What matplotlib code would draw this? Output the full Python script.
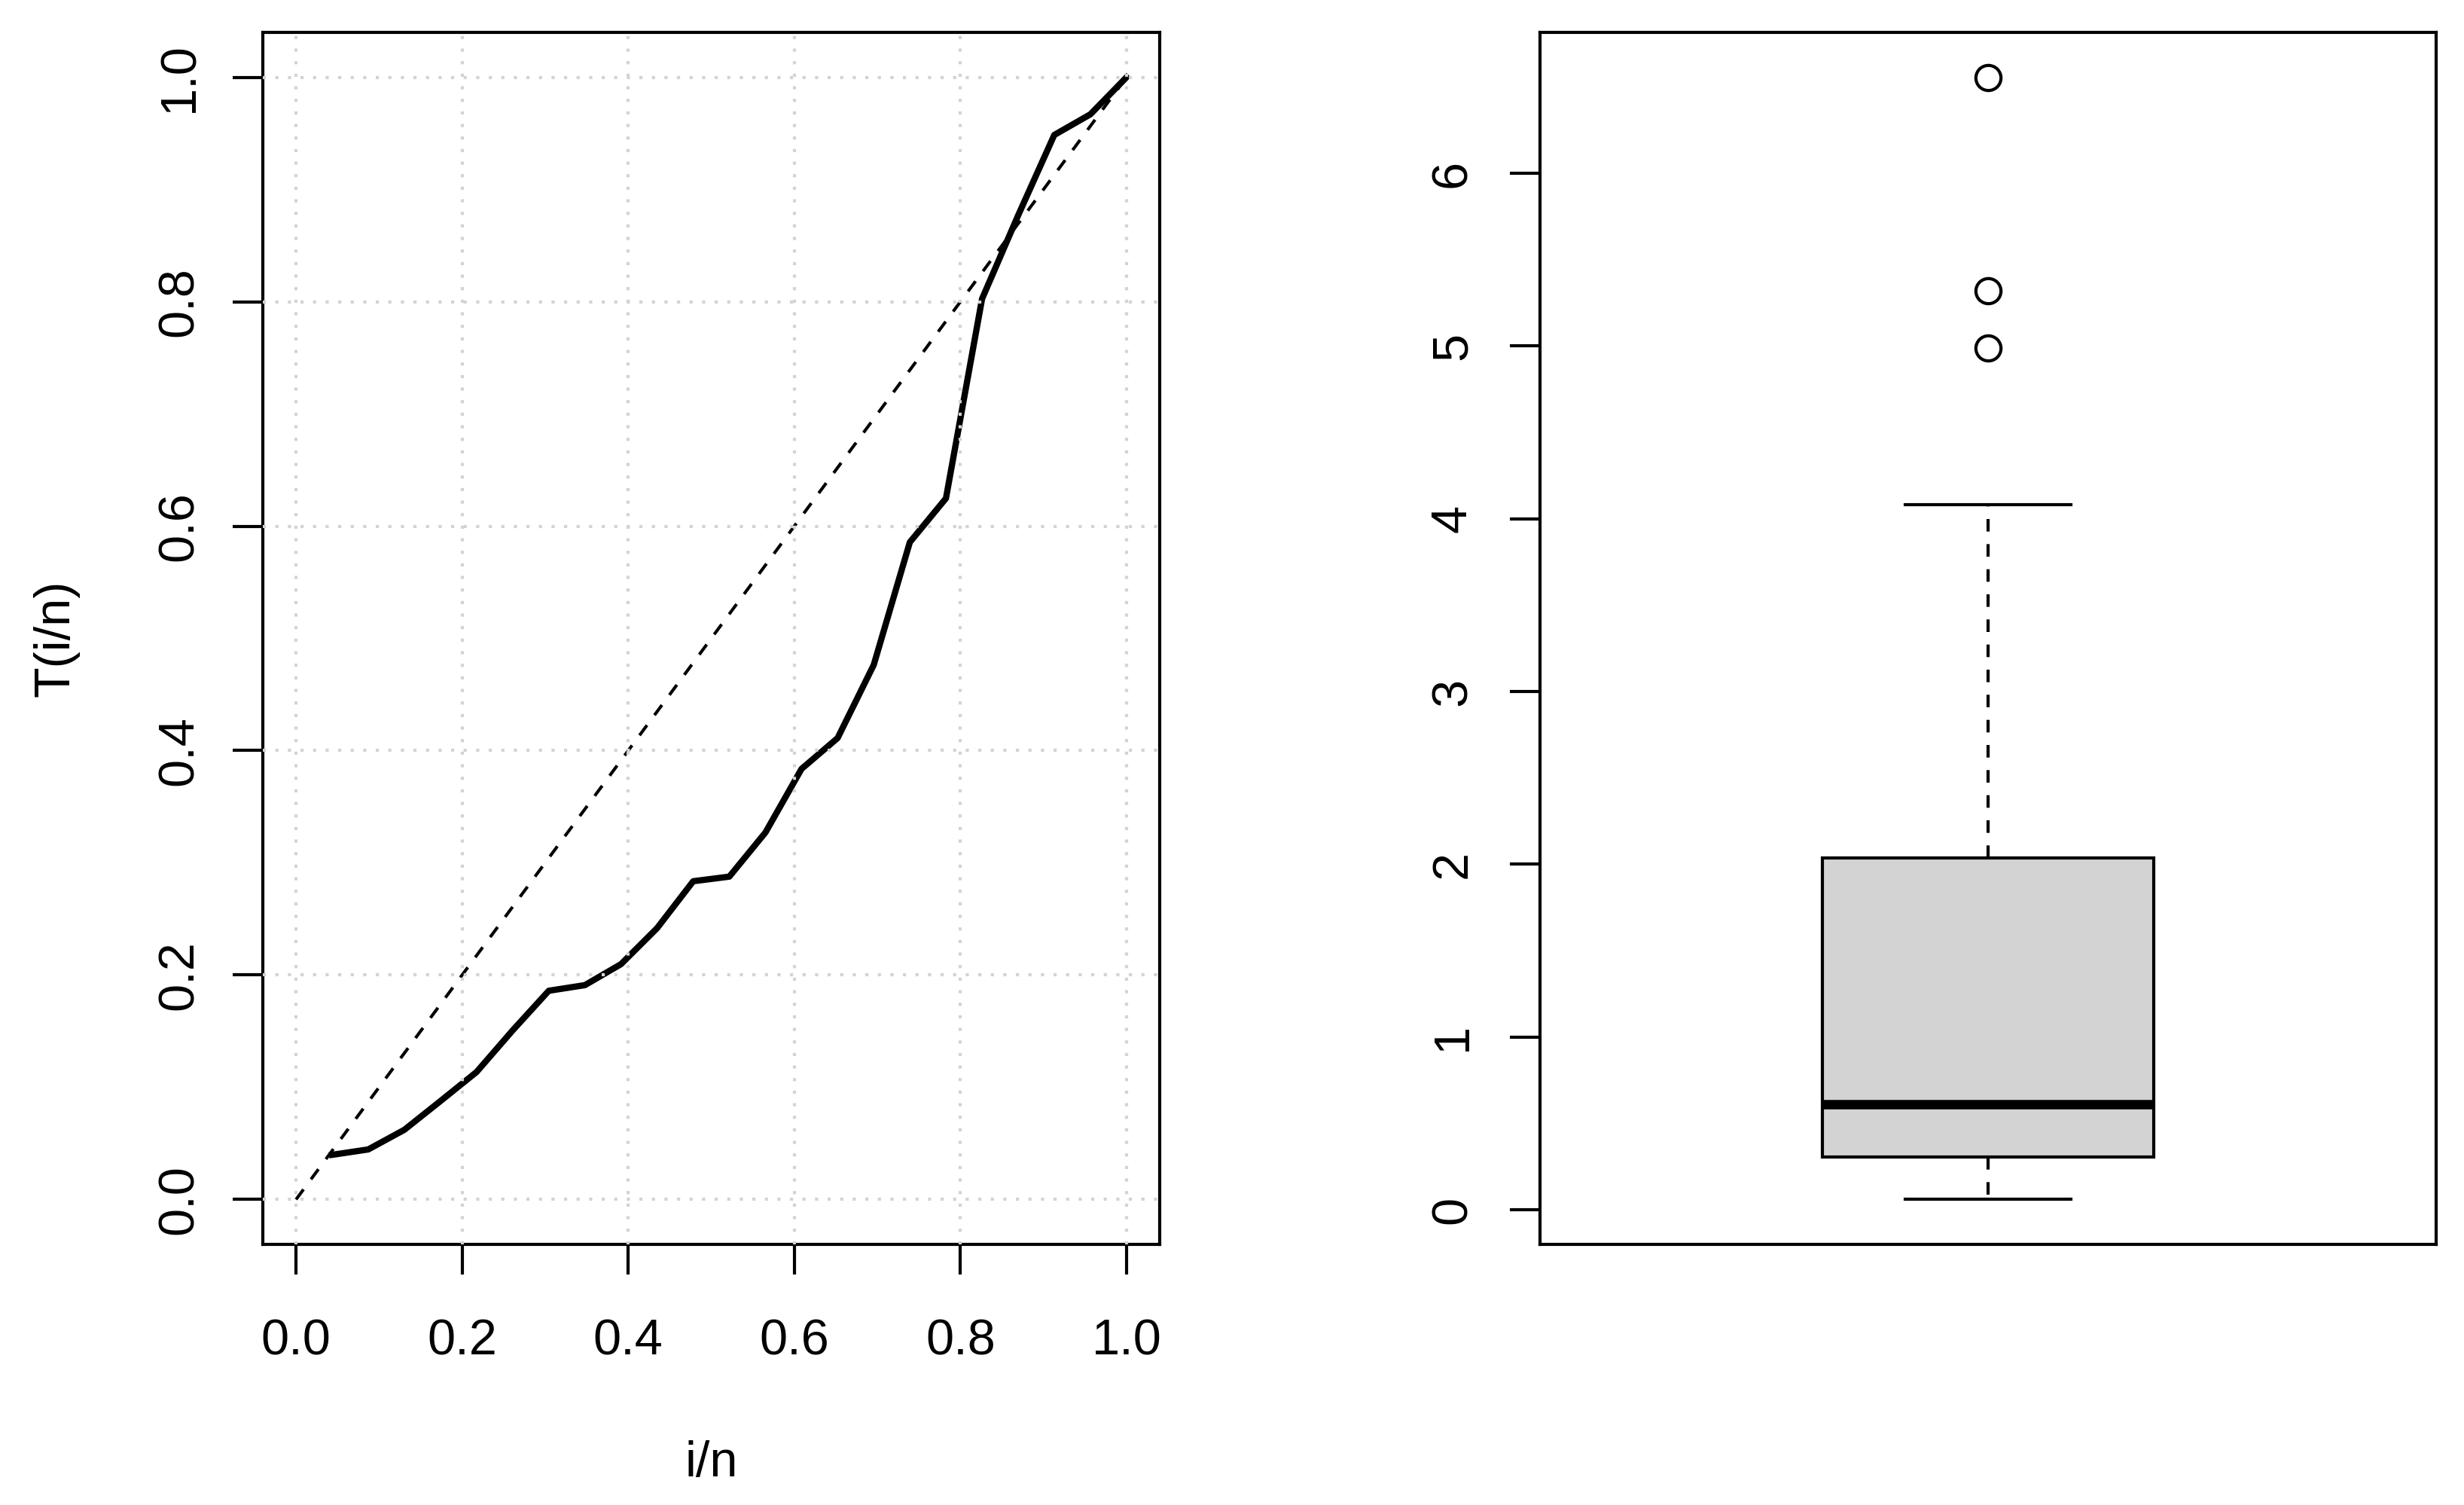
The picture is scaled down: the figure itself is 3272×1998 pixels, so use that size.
import numpy as np
import matplotlib
matplotlib.use("Agg")
import matplotlib.pyplot as plt

plt.rcParams['font.family'] = ['Liberation Sans', 'DejaVu Sans']
plt.rcParams['font.size'] = 12

# --- datos ---
n = 23
ttt = [0.0398, 0.0446, 0.0621, 0.0877, 0.1136, 0.1507, 0.1860, 0.1910,
       0.2097, 0.2418, 0.2836, 0.2877, 0.3270, 0.3837, 0.4112, 0.4764,
       0.5857, 0.6248, 0.8026, 0.8770, 0.9486, 0.9670, 1.0000]
ticks_unit = [0.0, 0.2, 0.4, 0.6, 0.8, 1.0]
tick_labels_unit = ["0.0", "0.2", "0.4", "0.6", "0.8", "1.0"]

# resumen del boxplot
whis_lo = 0.060
q1 = 0.308
median = 0.611
q3 = 2.039
whis_hi = 4.082
outliers = [4.99, 5.32, 6.556]
box_ticks = [0, 1, 2, 3, 4, 5, 6]

W, H = 3272, 1998
fig = plt.figure(figsize=(W / 400, H / 400), dpi=400)

def px_axes(left, top, right, bottom):
    return [left / W, 1 - bottom / H, (right - left) / W, (bottom - top) / H]

lw = 0.75

def style_axes(ax):
    for s in ax.spines.values():
        s.set_linewidth(lw)
    ax.tick_params(direction='out', length=7.2, width=lw, labelsize=12)

# --- panel izquierdo: grafico TTT ---
ax1 = fig.add_axes(px_axes(349, 43, 1540, 1652))
style_axes(ax1)
x = np.arange(1, n + 1) / n
ax1.set_xlim(-0.04, 1.04)
ax1.set_ylim(-0.04, 1.04)
for v in ticks_unit:
    ax1.axhline(v, color='lightgray', lw=lw, ls=(0, (1, 3)), zorder=3)
    ax1.axvline(v, color='lightgray', lw=lw, ls=(0, (1, 3)), zorder=3)
ax1.plot([0, 1], [0, 1], color='black', lw=lw, ls=(0, (4, 4)), zorder=2)
ax1.plot(x, ttt, color='black', lw=1.5, zorder=2, solid_joinstyle='round')
ax1.set_xticks(ticks_unit)
ax1.set_xticklabels(tick_labels_unit)
ax1.set_yticks(ticks_unit)
ax1.set_yticklabels(tick_labels_unit, rotation=90, va='center')
ax1.tick_params(axis='x', pad=10.5)
ax1.tick_params(axis='y', pad=7)
ax1.set_xlabel('i/n', labelpad=18)
ax1.set_ylabel('T(i/n)', labelpad=18.5)

# --- panel derecho: boxplot ---
ax2 = fig.add_axes(px_axes(2045, 43, 3235, 1652))
style_axes(ax2)
stats = [{'whislo': whis_lo, 'q1': q1, 'med': median, 'q3': q3,
          'whishi': whis_hi, 'fliers': outliers}]
ax2.bxp(stats, positions=[1], widths=0.4, capwidths=0.2, patch_artist=True,
        boxprops=dict(facecolor='lightgray', edgecolor='black', lw=lw),
        medianprops=dict(color='black', lw=2.25, solid_capstyle='butt'),
        whiskerprops=dict(color='black', lw=lw, ls=(0, (4, 4))),
        capprops=dict(color='black', lw=lw),
        flierprops=dict(marker='o', mfc='none', mec='black', ms=6, mew=lw))
lo = min([whis_lo] + outliers)
hi = max([whis_hi] + outliers)
pad = 0.04 * (hi - lo)
ax2.set_ylim(lo - pad, hi + pad)
ax2.set_xlim(0.46, 1.54)
ax2.set_xticks([])
ax2.set_yticks(box_ticks)
ax2.set_yticklabels([str(t) for t in box_ticks], rotation=90, va='center')
ax2.tick_params(axis='y', pad=8)

fig.savefig('out.png', dpi=400)
